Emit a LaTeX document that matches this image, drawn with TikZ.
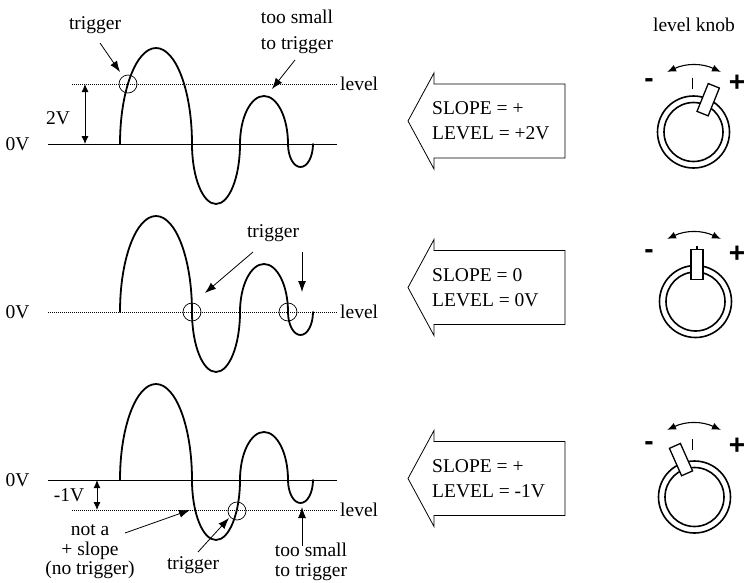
\documentclass[tikz,border=0pt]{standalone}
\usepackage{fontspec}
\setmainfont{Liberation Serif}
\newfontfamily\signfont{Liberation Sans}
\usetikzlibrary{arrows.meta}
\begin{document}
\begin{tikzpicture}[x=1pt,y=-1pt,
  lbl/.style={inner sep=0pt, font=\fontsize{19.5}{24}\selectfont},
  stack/.style={inner sep=0pt, align=center, font=\fontsize{19.5}{19.5}\selectfont},
  boxtext/.style={inner sep=0pt, anchor=west, align=left, font=\fontsize{19.5}{25}\selectfont},
  wave/.style={line width=1.8pt, line join=round, line cap=round},
  zero/.style={line width=0.9pt},
  lvl/.style={line width=0.8pt, dash pattern=on 0.9pt off 1.1pt},
  ann/.style={line width=0.8pt, -{Latex[length=11pt,width=8pt]}},
  dim/.style={line width=0.9pt, {Latex[length=8pt,width=7pt]}-{Latex[length=8pt,width=7pt]}},
  trigcirc/.style={circle, draw, line width=0.7pt, minimum size=18pt, inner sep=0pt},
  bigarrow/.style={line width=0.8pt},
  ring/.style={line width=1.6pt},
  handle/.style={draw, fill=white, line width=1.3pt, minimum width=12pt, minimum height=30pt, inner sep=0pt},
  sign/.style={inner sep=0pt, font=\signfont\bfseries\fontsize{28}{28}\selectfont},
  turn/.style={line width=1.1pt, {Latex[length=9pt,width=7pt]}-{Latex[length=9pt,width=7pt]}},
]
\useasboundingbox (0,0) rectangle (745,582);

% ---------- waveforms ----------
\foreach \dy in {0,168,336}{
  \begin{scope}[shift={(0,\dy)}]
    \draw[wave] (120,144) .. controls (120,91) and (136.1,48) .. (156,48)
      .. controls (175.9,48) and (192,91) .. (192,144)
      .. controls (192,177.1) and (202.7,204) .. (216,204)
      .. controls (229.3,204) and (240,177.1) .. (240,144)
      .. controls (240,117.5) and (250.7,96) .. (264,96)
      .. controls (277.3,96) and (288,117.5) .. (288,144)
      .. controls (288,156.7) and (293.6,167) .. (300.5,167)
      .. controls (307.4,167) and (313,156.7) .. (313,144);
  \end{scope}
}

% ---------- panel 1 ----------
\node[lbl] (zero1) at (17.5,144) {0V};
\coordinate (z1a) at (48,144); \coordinate (z1b) at (337,144);
\draw[zero] (z1a) -- (z1b);
\coordinate (l1a) at (72,84); \coordinate (l1b) at (337,84);
\draw[lvl] (l1a) -- (l1b);
\node[lbl, anchor=west] (lev1) at (340,84) {level};
\node[lbl] (two) at (58,118) {2V};
\coordinate (d1a) at (85,84); \coordinate (d1b) at (85,144);
\draw[dim] (d1a) -- (d1b);
\node[trigcirc] (c1) at (128,84) {};
\node[lbl] (trig1) at (95,25) {trigger};
\coordinate (trig1tip) at (120,72);
\draw[ann] ([shift={(5,18)}]trig1.center) -- (trig1tip);
\node[lbl, align=center, font=\fontsize{19.5}{26.5}\selectfont] (small1) at (297,32) {too small\\to trigger};
\coordinate (small1tip) at (272,89);
\draw[ann] ([shift={(-2,28)}]small1.center) -- (small1tip);

% ---------- panel 2 ----------
\node[lbl] (zero2) at (17.5,312) {0V};
\coordinate (l2a) at (48,312); \coordinate (l2b) at (337,312);
\draw[lvl] (l2a) -- (l2b);
\node[lbl, anchor=west] (lev2) at (340,312) {level};
\node[trigcirc] (c2) at (192,312) {};
\node[trigcirc] (c3) at (288,312) {};
\node[lbl] (trig2) at (273,233) {trigger};
\coordinate (trig2tipa) at (205,293);
\coordinate (trig2tipb) at (302,292);
\draw[ann] ([shift={(-20,19)}]trig2.center) -- (trig2tipa);
\draw[ann] ([shift={(29,19)}]trig2.center) -- (trig2tipb);

% ---------- panel 3 ----------
\node[lbl] (zero3) at (17.5,480) {0V};
\coordinate (z3a) at (48,480); \coordinate (z3b) at (337,480);
\draw[zero] (z3a) -- (z3b);
\coordinate (l3a) at (72,510); \coordinate (l3b) at (337,510);
\draw[lvl] (l3a) -- (l3b);
\node[lbl, anchor=west] (lev3) at (340,510) {level};
\node[lbl] (minus1) at (69,495) {-1V};
\coordinate (d3a) at (97,480); \coordinate (d3b) at (97,510);
\draw[dim] (d3a) -- (d3b);
\node[trigcirc] (c4) at (237,511) {};
\node[stack] (nota) at (90,552) {not a\\+ slope\\(no trigger)};
\coordinate (notatip) at (190,510);
\draw[ann] ([shift={(35,-19)}]nota.center) -- (notatip);
\node[lbl] (trig3) at (193,565) {trigger};
\coordinate (trig3tip) at (229,518);
\draw[ann] ([shift={(5,-13)}]trig3.center) -- (trig3tip);
\node[stack] (small3) at (311,562) {too small\\to trigger};
\coordinate (small3tip) at (302,507);
\draw[ann] ([shift={(-9,-16)}]small3.center) -- (small3tip);

% ---------- big arrows ----------
\foreach \cy in {121,287.5,478.5}{
  \draw[bigarrow] (408,\cy) -- (434,\cy-48) -- (434,\cy-37) -- (565,\cy-37)
    -- (565,\cy+37) -- (434,\cy+37) -- (434,\cy+48) -- cycle;
}
\node[boxtext] (s1) at (432,121) {SLOPE = +\\LEVEL = +2V};
\node[boxtext] (s2) at (432,287.5) {SLOPE = 0\\LEVEL = 0V};
\node[boxtext] (s3) at (432,478.5) {SLOPE = +\\LEVEL = -1V};

% ---------- knobs ----------
\node[lbl] (knoblbl) at (694,24.5) {level knob};

% knob 1
\draw[ring] (693.5,132) circle[radius=36pt];
\draw[ring] (693.5,132) circle[radius=29.5pt];
\draw[line width=1.4pt] (692.5,77.5) -- (692.5,89);
\node[handle, rotate=-22] (h1) at (708.2,99.7) {};
\node[sign] (m1) at (649,83.5) {-};
\node[sign] (p1) at (737,83.5) {+};
\coordinate (t1a) at (667,72); \coordinate (t1b) at (721,72);
\draw[turn] (t1a) to[bend left=25] (t1b);

% knob 2
\draw[ring] (695.5,301.5) circle[radius=36pt];
\draw[ring] (695.5,301.5) circle[radius=29.5pt];
\draw[line width=1.4pt] (697,246) -- (697,258);
\node[handle] (h2) at (697,264.5) {};
\node[sign] (m2) at (649,254) {-};
\node[sign] (p2) at (737,254) {+};
\coordinate (t2a) at (667,239); \coordinate (t2b) at (721,239);
\draw[turn] (t2a) to[bend left=25] (t2b);

% knob 3
\draw[ring] (694.5,497) circle[radius=36pt];
\draw[ring] (694.5,497) circle[radius=29.5pt];
\draw[line width=1.4pt] (692.5,439) -- (692.5,450);
\node[handle, rotate=24] (h3) at (681,459.6) {};
\node[sign] (m3) at (649,446.5) {-};
\node[sign] (p3) at (737,446.5) {+};
\coordinate (t3a) at (667,430); \coordinate (t3b) at (721,430);
\draw[turn] (t3a) to[bend left=25] (t3b);
\end{tikzpicture}
\end{document}
